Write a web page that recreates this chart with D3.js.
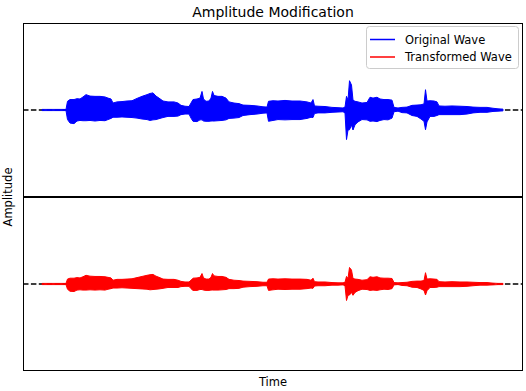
<!DOCTYPE html>
<html>
<head>
<meta charset="utf-8">
<script src="https://cdn.jsdelivr.net/npm/d3@7"></script>
<style>
  html, body { margin: 0; padding: 0; background: #fff; }
  svg { display: block; }
  text { font-family: "DejaVu Sans", sans-serif; fill: #000; }
</style>
</head>
<body>
<svg id="chart" width="526" height="391"></svg>
<script>
// ---- data (envelope of the waveforms) ----
const time = [0.00,0.24,0.255,0.28,0.32,0.35,0.38,0.41,0.44,0.48,0.53,0.58,0.63,0.66,0.69,0.71,0.75,0.80,0.85,0.90,
  0.95,1.00,1.05,1.08,1.11,1.14,1.17,1.21,1.26,1.32,1.36,1.39,1.43,1.47,1.49,1.51,1.55,1.58,1.60,1.615,
  1.64,1.67,1.69,1.705,1.72,1.76,1.80,1.84,1.87,1.92,1.97,2.01,2.08,2.15,2.21,2.25,2.265,2.31,2.36,2.43,
  2.50,2.58,2.65,2.69,2.71,2.725,2.76,2.83,2.90,2.96,3.01,3.03,3.045,3.06,3.075,3.095,3.11,3.13,3.16,3.20,
  3.25,3.28,3.31,3.35,3.38,3.42,3.46,3.50,3.52,3.56,3.60,3.65,3.70,3.75,3.79,3.82,3.835,3.85,3.88,3.92,
  3.95,3.97,4.03,4.10,4.18,4.25,4.31,4.38,4.45,4.51,4.56,4.61];

const originalMax = [0.02,0.02,0.30,0.36,0.36,0.39,0.38,0.45,0.53,0.48,0.47,0.47,0.45,0.41,0.38,0.24,0.28,0.29,0.31,0.32,
  0.40,0.47,0.53,0.57,0.59,0.48,0.41,0.31,0.28,0.28,0.24,0.16,0.13,0.12,0.24,0.36,0.38,0.41,0.64,0.38,
  0.30,0.31,0.41,0.64,0.50,0.47,0.47,0.41,0.28,0.24,0.22,0.17,0.16,0.14,0.11,0.10,0.30,0.32,0.31,0.33,
  0.31,0.31,0.28,0.24,0.36,0.14,0.13,0.12,0.09,0.08,0.07,0.10,0.47,0.34,1.01,0.86,0.34,0.30,0.28,0.24,
  0.26,0.44,0.41,0.44,0.38,0.36,0.36,0.34,0.09,0.07,0.09,0.10,0.16,0.17,0.18,0.21,0.70,0.31,0.32,0.31,
  0.28,0.14,0.13,0.14,0.13,0.12,0.10,0.09,0.09,0.06,0.04,0.03];

const originalMin = [-0.02,-0.02,-0.33,-0.45,-0.47,-0.38,-0.36,-0.37,-0.37,-0.36,-0.38,-0.36,-0.37,-0.33,-0.29,-0.25,-0.25,-0.24,-0.25,-0.26,
  -0.28,-0.31,-0.33,-0.36,-0.34,-0.33,-0.30,-0.26,-0.22,-0.22,-0.21,-0.16,-0.14,-0.14,-0.28,-0.39,-0.40,-0.34,-0.34,-0.38,
  -0.39,-0.39,-0.38,-0.38,-0.38,-0.37,-0.36,-0.34,-0.29,-0.28,-0.26,-0.19,-0.16,-0.14,-0.11,-0.10,-0.39,-0.36,-0.33,-0.34,
  -0.33,-0.33,-0.29,-0.25,-0.26,-0.12,-0.10,-0.10,-0.08,-0.07,-0.06,-0.10,-1.02,-0.69,-0.68,-0.52,-0.69,-0.51,-0.41,-0.33,
  -0.34,-0.39,-0.38,-0.40,-0.36,-0.33,-0.34,-0.28,-0.06,-0.04,-0.09,-0.10,-0.19,-0.22,-0.31,-0.39,-0.68,-0.41,-0.22,-0.22,
  -0.19,-0.16,-0.16,-0.16,-0.16,-0.14,-0.10,-0.08,-0.08,-0.05,-0.04,-0.03];

const transformedMax = [0.02,0.02,0.17,0.20,0.20,0.22,0.21,0.25,0.30,0.27,0.26,0.26,0.25,0.23,0.21,0.13,0.16,0.16,0.17,0.18,
  0.22,0.26,0.30,0.32,0.33,0.27,0.23,0.17,0.16,0.16,0.13,0.09,0.07,0.07,0.13,0.20,0.21,0.23,0.36,0.21,
  0.17,0.17,0.23,0.36,0.28,0.26,0.26,0.23,0.16,0.13,0.12,0.10,0.09,0.08,0.06,0.06,0.17,0.18,0.17,0.18,
  0.17,0.17,0.16,0.13,0.20,0.08,0.07,0.07,0.05,0.04,0.04,0.06,0.26,0.19,0.57,0.48,0.19,0.17,0.16,0.13,
  0.15,0.25,0.23,0.25,0.21,0.20,0.20,0.19,0.05,0.04,0.05,0.06,0.09,0.10,0.10,0.12,0.39,0.17,0.18,0.17,
  0.16,0.08,0.07,0.08,0.07,0.07,0.06,0.05,0.05,0.03,0.02,0.02];

const transformedMin = [-0.02,-0.02,-0.18,-0.25,-0.26,-0.21,-0.20,-0.21,-0.21,-0.20,-0.21,-0.20,-0.21,-0.18,-0.16,-0.14,-0.14,-0.13,-0.14,-0.15,
  -0.16,-0.17,-0.18,-0.20,-0.19,-0.18,-0.17,-0.15,-0.12,-0.12,-0.12,-0.09,-0.08,-0.08,-0.16,-0.22,-0.22,-0.19,-0.19,-0.21,
  -0.22,-0.22,-0.21,-0.21,-0.21,-0.21,-0.20,-0.19,-0.16,-0.16,-0.15,-0.11,-0.09,-0.08,-0.06,-0.06,-0.22,-0.20,-0.18,-0.19,
  -0.18,-0.18,-0.16,-0.14,-0.15,-0.07,-0.06,-0.06,-0.04,-0.04,-0.03,-0.06,-0.57,-0.39,-0.38,-0.29,-0.39,-0.29,-0.23,-0.18,
  -0.19,-0.22,-0.21,-0.22,-0.20,-0.18,-0.19,-0.16,-0.03,-0.02,-0.05,-0.06,-0.11,-0.12,-0.17,-0.22,-0.38,-0.23,-0.12,-0.12,
  -0.11,-0.09,-0.09,-0.09,-0.09,-0.08,-0.06,-0.04,-0.04,-0.03,-0.02,-0.02];

const seriesNames = ["Original Wave", "Transformed Wave"];
const seriesColors = ["#0000ff", "#ff0000"];
const titleText = "Amplitude Modification";
const xLabel = "Time";
const yLabel = "Amplitude";
const timeDomain = [-0.19, 4.81];
const ampDomain = [-3, 3];

// ---- layout ----
const svg = d3.select("#chart");
const left = 23, right = 523;
const panels = [
  { top: 23, bottom: 197, max: originalMax, min: originalMin, color: seriesColors[0] },
  { top: 197, bottom: 371, max: transformedMax, min: transformedMin, color: seriesColors[1] }
];

const x = d3.scaleLinear().domain(timeDomain).range([left, right]);

panels.forEach((p, pi) => {
  const y = d3.scaleLinear().domain(ampDomain).range([p.bottom, p.top]);
  const g = svg.append("g");
  const clipId = "clip" + pi;
  svg.append("clipPath").attr("id", clipId)
    .append("rect").attr("x", left).attr("y", p.top).attr("width", right - left).attr("height", p.bottom - p.top);

  // zero reference (dashed)
  g.append("line")
    .attr("x1", left).attr("x2", right)
    .attr("y1", y(0)).attr("y2", y(0))
    .attr("stroke", "#000").attr("stroke-width", 1.5)
    .attr("stroke-dasharray", "5.5,2.4");

  const pts = time.map((t, i) => ({ t, hi: p.max[i], lo: p.min[i] }));
  const area = d3.area()
    .x(d => x(d.t))
    .y0(d => y(d.lo))
    .y1(d => y(d.hi))
    .curve(d3.curveLinear);

  g.append("path")
    .attr("clip-path", `url(#${clipId})`)
    .attr("d", area(pts))
    .attr("fill", p.color)
    .attr("stroke", p.color)
    .attr("stroke-width", 1)
    .attr("stroke-linejoin", "round");
});

// frames
svg.append("rect").attr("x", left + 0.5).attr("y", 23.5)
  .attr("width", right - left - 1).attr("height", 173)
  .attr("fill", "none").attr("stroke", "#000").attr("stroke-width", 1);
svg.append("rect").attr("x", left + 0.5).attr("y", 197.5)
  .attr("width", right - left - 1).attr("height", 173)
  .attr("fill", "none").attr("stroke", "#000").attr("stroke-width", 1);

// title & labels
svg.append("text").attr("x", (left + right) / 2).attr("y", 17)
  .attr("text-anchor", "middle").style("font-size", "14px").text(titleText);
svg.append("text").attr("x", (left + right) / 2).attr("y", 386)
  .attr("text-anchor", "middle").style("font-size", "11.5px").text(xLabel);
svg.append("text").attr("transform", "translate(12,197) rotate(-90)")
  .attr("text-anchor", "middle").style("font-size", "11.5px").text(yLabel);

// legend
const lg = svg.append("g");
lg.append("rect").attr("x", 366.5).attr("y", 26.5).attr("width", 152).attr("height", 42)
  .attr("rx", 3).attr("fill", "#fff").attr("fill-opacity", 0.8)
  .attr("stroke", "#cccccc").attr("stroke-width", 1);
seriesNames.forEach((name, i) => {
  const yy = 39.5 + i * 17.5;
  lg.append("line").attr("x1", 370).attr("x2", 395).attr("y1", yy).attr("y2", yy)
    .attr("stroke", seriesColors[i]).attr("stroke-width", 1.5);
  lg.append("text").attr("x", 405).attr("y", yy + 4.3)
    .style("font-size", "11.5px").text(name);
});
</script>
</body>
</html>
